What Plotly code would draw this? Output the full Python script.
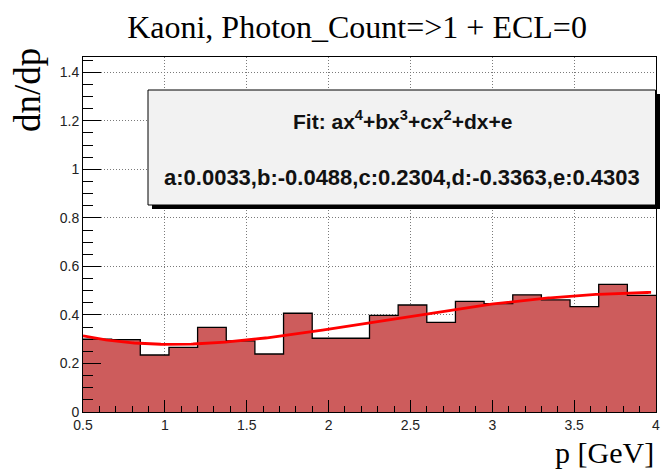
import numpy as np
import plotly.graph_objects as go

# Histogram: 20 bins of momentum p between 0.5 and 4 GeV
bin_lo = 0.5
bin_hi = 4.0
n_bins = 20
counts = [0.300, 0.298, 0.235, 0.266, 0.349, 0.293, 0.239, 0.407, 0.304, 0.304,
          0.398, 0.441, 0.369, 0.456, 0.447, 0.483, 0.462, 0.434, 0.526, 0.481]

# Fit parameters of the polynomial ax^4+bx^3+cx^2+dx+e
fit_params = {"a": 0.0033, "b": -0.0488, "c": 0.2304, "d": -0.3363, "e": 0.4303}

x_ticks = [0.5, 1, 1.5, 2, 2.5, 3, 3.5, 4]
y_ticks = [0, 0.2, 0.4, 0.6, 0.8, 1.0, 1.2, 1.4]

edges = np.linspace(bin_lo, bin_hi, n_bins + 1)
step_x = list(edges)
step_y = list(counts) + [counts[-1]]

p = fit_params
fx = np.linspace(bin_lo, 3.97, 300)
fy = p["a"] * fx**4 + p["b"] * fx**3 + p["c"] * fx**2 + p["d"] * fx + p["e"]

fig = go.Figure()
fig.add_trace(go.Scatter(
    x=step_x, y=step_y, mode="lines", line_shape="hv",
    fill="tozeroy", fillcolor="#cd5c5c",
    line=dict(color="black", width=1.3), hoverinfo="skip"))
fig.add_trace(go.Scatter(
    x=fx, y=fy, mode="lines", line=dict(color="#ff0000", width=2.8)))

# plot area in pixels: x 83..656, y 57..412
L, R, T, B = 83, 656, 57, 412
W, H = R - L, B - T


def px_x(v):
    return (v - L) / W


def px_y(v):
    return (B - v) / H


shapes = [
    dict(type="rect", xref="paper", yref="paper",
         x0=px_x(152), x1=px_x(660), y0=px_y(94), y1=px_y(209),
         fillcolor="black", line=dict(width=0), layer="above"),
    dict(type="rect", xref="paper", yref="paper",
         x0=px_x(148), x1=px_x(655.5), y0=px_y(90), y1=px_y(205),
         fillcolor="#f2f2f2", line=dict(color="black", width=1), layer="above"),
]

stats_line = ",".join(f"{k}:{v:.4f}" for k, v in fit_params.items())

annotations = [
    dict(text="<b>Fit: ax<sup>4</sup>+bx<sup>3</sup>+cx<sup>2</sup>+dx+e</b>",
         xref="paper", yref="paper", x=px_x(402), y=px_y(120),
         xanchor="center", yanchor="middle", showarrow=False,
         font=dict(family="Liberation Sans", size=21, color="#111")),
    dict(text=f"<b>{stats_line}</b>",
         xref="paper", yref="paper", x=px_x(402), y=px_y(177),
         xanchor="center", yanchor="middle", showarrow=False,
         font=dict(family="Liberation Sans", size=22, color="#111")),
    dict(text="p [GeV]", xref="paper", yref="paper", x=1, y=px_y(452),
         xanchor="right", yanchor="middle", showarrow=False,
         font=dict(family="Liberation Serif", size=30, color="black")),
    dict(text="dn/dp", xref="paper", yref="paper", x=px_x(27), y=px_y(46),
         xanchor="center", yanchor="top", textangle=-90, showarrow=False,
         font=dict(family="Liberation Serif", size=37, color="black")),
]

grid_style = dict(showgrid=True, gridcolor="#7a7a7a", griddash="1px,2px", gridwidth=1)

fig.update_layout(
    width=671, height=471,
    margin=dict(l=L, r=671 - R, t=T, b=471 - B),
    paper_bgcolor="white", plot_bgcolor="white",
    showlegend=False,
    title=dict(text="Kaoni, Photon_Count=>1 + ECL=0", x=357 / 671, xanchor="center",
               y=1 - 27 / 471, yanchor="middle",
               font=dict(family="Liberation Serif", size=32, color="black")),
    shapes=shapes, annotations=annotations,
    xaxis=dict(range=[bin_lo, bin_hi], tickvals=x_ticks,
               ticktext=[f"{v:g}" for v in x_ticks],
               ticks="inside", ticklen=12, tickcolor="black", tickwidth=1,
               minor=dict(dtick=0.1, tick0=0.5, ticks="inside", ticklen=6,
                          tickcolor="black", tickwidth=1, showgrid=False),
               showline=True, linecolor="black", linewidth=1, mirror=True,
               zeroline=False, **grid_style,
               tickfont=dict(family="Liberation Sans", size=14, color="#222")),
    yaxis=dict(range=[0, 1.463], tickvals=y_ticks,
               ticktext=[f"{v:g}" for v in y_ticks],
               ticks="inside", ticklen=18, tickcolor="black", tickwidth=1,
               minor=dict(dtick=0.05, tick0=0, ticks="inside", ticklen=10,
                          tickcolor="black", tickwidth=1, showgrid=False),
               showline=True, linecolor="black", linewidth=1, mirror=True,
               zeroline=False, **grid_style,
               tickfont=dict(family="Liberation Sans", size=14, color="#222")),
)

fig.write_html("out.html")
